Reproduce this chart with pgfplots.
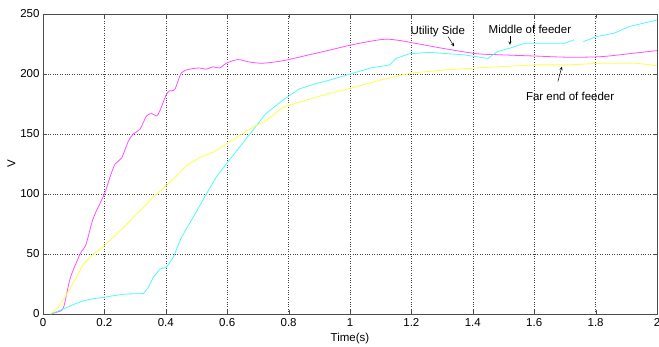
\documentclass[border=0pt]{standalone}
\usepackage{pgfplots}
\pgfplotsset{compat=1.18}
\usepackage{fontspec}
\setmainfont{Liberation Sans}
\definecolor{umag}{RGB}{255,80,255}
\definecolor{ucyan}{RGB}{80,250,250}
\definecolor{uyel}{RGB}{255,255,70}
\begin{document}
\begin{tikzpicture}
\begin{axis}[
  name=ax,
  scale only axis,
  width=614pt, height=300pt,
  xmin=0, xmax=2, ymin=0, ymax=250,
  xtick={0,0.2,...,2.01}, ytick={0,50,...,250},
  xticklabels={0,0.2,0.4,0.6,0.8,1,1.2,1.4,1.6,1.8,2},
  /pgf/number format/assume math mode=true,
  ticklabel style={font=\fontsize{11.5}{13}\selectfont},
  label style={font=\fontsize{11.5}{13}\selectfont},
  xticklabel style={yshift=-1pt},
  xlabel={Time(s)}, ylabel={V},
  xlabel style={yshift=0pt},
  ylabel style={yshift=-2pt},
  grid=major,
  major grid style={dotted, black!75, line width=0.5pt},
  axis line style={black!70, line width=0.6pt},
  tick align=inside, major tick length=4pt,
  tick style={black!70},
  unbounded coords=jump,
  clip=false,
]
% Utility side
\addplot[umag, line width=0.8pt, smooth] coordinates {
(0.024,0) (0.05,2) (0.067,5.5) (0.089,30) (0.121,50) (0.14,58) (0.164,80) (0.2,100)
(0.218,114) (0.235,125) (0.256,130) (0.278,144) (0.294,150) (0.316,154) (0.337,165)
(0.354,167) (0.37,165) (0.38,169) (0.402,183) (0.413,186) (0.429,187) (0.451,201)
(0.478,204) (0.51,205) (0.532,204) (0.554,206) (0.575,205) (0.597,209) (0.635,212)
(0.672,210) (0.716,209) (0.78,211) (0.867,216) (0.935,220) (1.0,224) (1.06,227)
(1.115,229) (1.16,228) (1.21,225.7) (1.3,221.5) (1.41,217) (1.49,216) (1.6,215)
(1.71,214) (1.82,214.5) (1.93,217.5) (2.0,219.5)
};
% Middle of feeder
\addplot[ucyan, line width=0.8pt] coordinates {
(0.024,0) (0.05,2.5) (0.078,5.5) (0.105,8.5) (0.132,11) (0.165,12.8) (0.2,14) (0.236,15.5) (0.272,16.7)
(0.327,17) (0.343,22) (0.359,30.5) (0.381,37.5) (0.402,39) (0.424,47) (0.451,64)
(0.489,80.5) (0.532,100) (0.564,114) (0.597,125) (0.64,139) (0.683,153) (0.726,167)
(0.78,178) (0.834,187.5) (0.889,192) (0.935,195) (1.0,200) (1.067,205) (1.13,207.6)
(1.15,213) (1.195,217) (1.26,218) (1.37,216) (1.45,213) (1.48,218.7) (1.52,221.5)
(1.57,225.7) (1.63,225.7) (1.7,225.7) (1.73,228.5) (1.74,nan) (1.76,227) (1.8,231)
(1.86,234) (1.91,239.6) (1.95,242) (2.0,245)
};
% Far end of feeder
\addplot[uyel, line width=0.8pt] coordinates {
(0.024,0) (0.05,5.5) (0.078,16.7) (0.105,29) (0.132,41.7) (0.165,50) (0.2,57) (0.262,72) (0.316,86)
(0.37,100) (0.402,107) (0.435,115) (0.467,123.6) (0.51,130.5) (0.554,134.7)
(0.597,141.7) (0.64,148.6) (0.683,155.6) (0.726,161) (0.78,172) (0.834,176.4)
(0.889,180.6) (0.935,184) (1.0,188) (1.1,195) (1.195,200.7) (1.31,203.4) (1.41,205)
(1.6,207.6) (1.71,207.6) (1.82,209) (1.93,209) (2.0,207)
};
\node[font=\fontsize{11.5}{13}\selectfont] at (axis cs:1.286,235) {Utility Side};
\draw[-stealth, black, line width=0.5pt] (axis cs:1.32,231) -- (axis cs:1.339,223);
\node[font=\fontsize{11.5}{13}\selectfont] at (axis cs:1.586,237.5) {Middle of feeder};
\draw[-stealth, black, line width=0.5pt] (axis cs:1.521,232) -- (axis cs:1.521,224.3);
\node[font=\fontsize{11.5}{13}\selectfont] at (axis cs:1.717,181.7) {Far end of feeder};
\draw[-stealth, black, line width=0.5pt] (axis cs:1.677,193.6) -- (axis cs:1.69,206);
\end{axis}
\pgfresetboundingbox
\path[use as bounding box] ([shift={(-43pt,-32pt)}]ax.south west) rectangle ([shift={(2pt,14pt)}]ax.north east);
\end{tikzpicture}
\end{document}
